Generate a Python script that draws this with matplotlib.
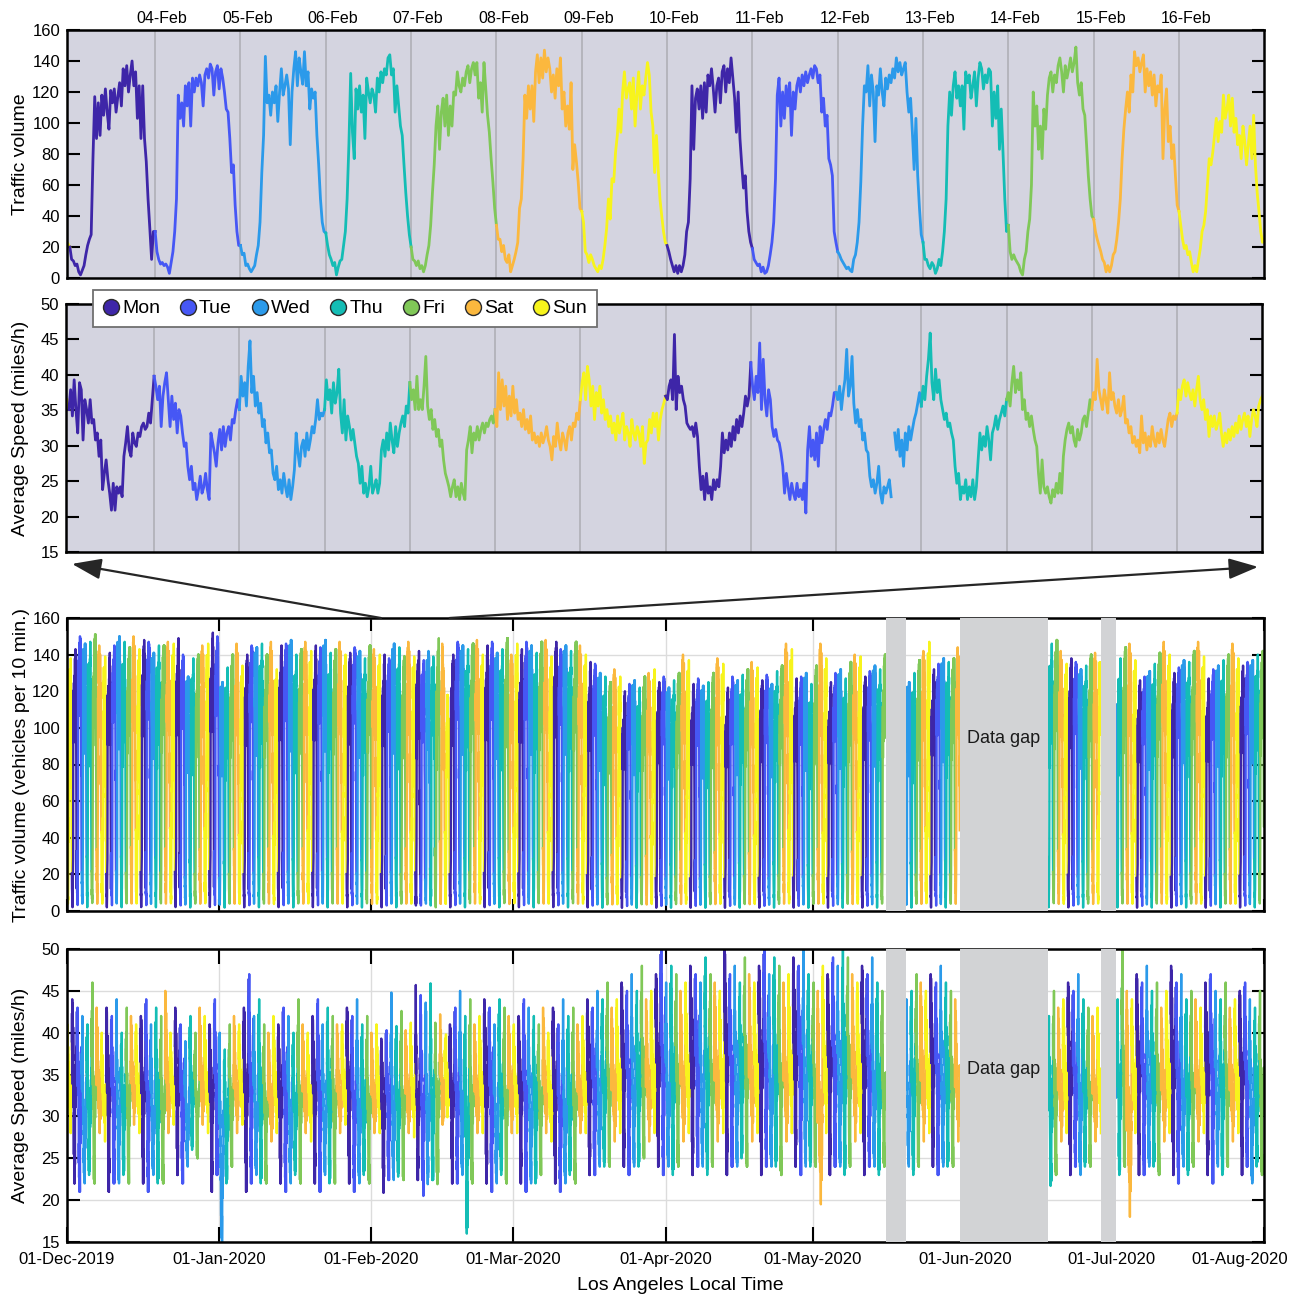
import numpy as np
import matplotlib
matplotlib.use("Agg")
import matplotlib.pyplot as plt
import matplotlib.dates as mdates
from matplotlib.patches import ConnectionPatch
from matplotlib.lines import Line2D
from matplotlib.transforms import ScaledTranslation, blended_transform_factory

plt.rcParams['font.family'] = ['Liberation Sans', 'DejaVu Sans']
plt.rcParams['font.size'] = 12

# ---------------- categories / styling data ----------------
day_names = ['Mon', 'Tue', 'Wed', 'Thu', 'Fri', 'Sat', 'Sun']
day_colors = ['#3E26A8', '#4657F5', '#2B9AEA', '#14BDB5', '#80C858', '#FBB83E', '#F7F41C']

# ---------------- zoom window: 30-min readings, 03-Feb .. 16-Feb 2020 ----------------
vol_0203 = [20,12,11,8,9,4,2,5,8,15,21,25,28,77,117,90,113,92,118,105,122,107,96,121,113,122,107,117,126,111,135,124,137,120,131,140,124,133,103,124,90,124,90,75,51,32,12,30]
vol_0204 = [30,17,12,9,10,8,9,7,3,10,17,30,51,118,103,113,98,124,111,126,98,129,120,129,124,131,126,111,131,135,129,138,135,118,133,137,122,135,129,120,109,107,90,68,73,47,30,21]
vol_0205 = [21,15,16,8,9,6,4,6,8,15,21,36,68,92,143,113,118,105,120,113,124,101,120,135,118,124,131,122,86,120,135,146,124,142,133,125,146,124,133,109,122,116,120,92,73,51,36,30]
vol_0206 = [29,21,15,12,8,10,2,7,11,12,21,30,51,86,132,94,77,122,109,124,107,118,90,129,120,113,122,118,107,129,120,133,126,135,131,142,144,131,135,107,124,111,98,92,73,55,40,28]
vol_0207 = [20,12,11,8,11,6,8,4,8,15,21,34,55,73,98,111,83,107,116,98,118,92,111,98,120,118,133,124,120,129,124,133,137,126,135,139,131,139,116,126,107,139,122,105,94,77,62,45]
vol_0208 = [34,25,25,17,21,12,10,15,4,8,12,17,23,45,51,77,118,103,124,109,124,101,133,144,126,142,129,147,133,142,135,120,131,116,135,124,142,109,120,98,111,96,126,70,86,75,62,45]
vol_0209 = [43,36,17,15,10,15,12,8,6,4,8,6,12,21,32,51,38,64,62,81,92,109,94,120,133,116,122,126,109,129,98,118,133,109,124,118,129,139,131,107,98,68,92,70,51,40,30,23]
vol_0210 = [21,17,12,8,4,8,3,8,4,8,15,30,36,64,124,83,116,122,109,124,103,126,107,131,124,135,122,107,124,129,113,133,137,120,135,126,142,129,116,94,120,90,73,58,66,43,30,23]
vol_0211 = [19,12,10,8,9,4,7,3,4,8,15,23,36,64,118,129,98,120,103,124,111,126,92,120,109,124,129,120,131,124,133,126,131,135,129,137,135,126,131,107,116,98,105,77,73,66,30,23]
vol_0212 = [17,15,12,10,8,6,7,5,4,12,15,23,36,62,98,124,120,137,111,131,120,88,124,118,135,120,111,129,122,131,126,135,129,142,133,139,131,135,139,120,107,116,94,70,103,66,45,28]
vol_0213 = [23,12,12,8,6,10,8,3,6,12,8,17,30,51,98,120,105,124,133,116,124,111,124,96,133,126,131,116,124,133,111,129,139,135,122,131,126,135,133,98,120,103,124,83,109,81,51,30]
vol_0214 = [34,17,12,15,12,10,8,4,2,12,17,30,38,60,120,98,111,83,98,77,109,96,118,129,133,120,131,126,137,142,133,120,137,129,135,142,133,139,149,126,118,126,109,105,86,66,51,40]
vol_0215 = [38,30,25,21,17,12,10,4,8,4,8,15,17,25,36,51,77,96,109,120,107,131,120,146,137,142,133,139,144,120,135,124,133,118,131,111,124,120,131,77,109,122,88,98,77,86,66,47]
vol_0216 = [43,34,25,19,21,15,17,10,4,8,4,12,19,30,34,43,60,77,73,81,92,103,88,101,94,118,103,109,118,98,116,94,103,86,92,77,98,88,73,86,98,77,105,73,55,43,30,23]
vol_before, vol_after = 22, 25      # 02-Feb 23:30 and 17-Feb 00:00

spd_0203 = [35.1,37.9,34.2,39.3,35.1,31.8,38.9,37.9,30.8,36.5,35.1,33.2,36.5,33.2,33.7,30.8,31.8,28.5,30.8,23.8,26.1,28.0,25.2,23.3,20.9,24.7,20.9,24.2,23.3,24.2,22.8,28.5,30.4,32.7,29.4,28.5,31.8,30.4,29.9,31.8,31.3,32.7,33.2,32.3,32.7,34.6,33.2,36.5]
spd_0204 = [39.8,38.4,36.5,38.4,32.7,37.0,38.9,40.3,36.5,32.7,37.0,33.7,36.0,31.8,35.1,34.2,31.8,29.9,30.4,27.1,25.2,27.1,23.8,24.7,22.4,23.8,25.7,23.3,24.2,26.1,23.8,22.4,31.8,30.4,29.0,27.1,30.4,32.3,29.4,32.7,29.9,31.8,32.7,30.8,33.7,33.2,35.1,36.5]
spd_0205 = [35.1,39.8,37.0,38.9,35.6,41.2,44.8,37.5,39.8,35.6,37.5,34.6,36.0,32.7,33.7,30.4,31.8,29.0,29.4,26.1,25.2,27.1,23.8,25.2,23.3,26.1,24.2,22.8,25.2,22.4,24.2,26.6,31.8,29.0,27.1,29.9,30.8,28.5,31.8,29.4,30.8,32.7,31.8,33.7,36.5,33.7,34.6,34.2]
spd_0206 = [35.1,39.3,36.5,37.9,34.6,38.9,36.0,37.5,40.8,34.6,31.8,36.5,30.8,34.2,32.7,30.8,32.3,30.4,28.5,27.5,24.7,27.1,23.3,24.7,22.8,24.2,27.1,23.3,24.2,25.2,23.3,24.7,29.4,30.8,28.5,31.8,29.4,33.2,30.8,29.0,32.7,29.9,31.8,33.2,34.2,32.7,35.6,34.6]
spd_0207 = [38.9,36.5,37.9,35.1,39.8,35.1,36.5,35.1,38.4,42.6,35.6,33.7,35.1,32.3,33.7,31.3,32.3,29.9,30.8,28.0,26.1,25.2,24.2,22.8,24.2,25.2,22.8,24.2,22.4,24.7,23.3,22.4,29.4,30.8,32.7,29.0,31.8,30.8,32.7,30.8,32.3,33.2,31.8,33.2,32.7,33.7,34.2,33.2]
spd_0208 = [35.1,32.7,40.3,35.1,39.3,35.6,38.4,33.7,37.0,34.2,38.4,34.6,36.5,33.7,34.6,32.7,35.1,32.3,33.7,31.8,34.2,30.8,31.8,30.4,31.3,29.9,31.8,30.4,31.3,32.7,30.8,29.9,28.0,31.3,29.9,33.2,30.8,29.4,31.8,30.8,29.4,31.8,32.7,30.8,33.2,32.7,34.6,33.7]
spd_0209 = [36.5,38.9,40.3,36.5,41.2,39.3,35.6,38.4,33.7,37.5,35.6,38.4,34.6,36.5,33.7,35.1,32.7,34.2,31.8,33.2,30.8,34.2,31.8,33.2,34.6,30.8,32.7,31.8,29.9,33.7,31.8,30.8,32.7,31.8,29.9,32.7,27.5,30.4,30.8,33.7,31.8,34.6,32.7,34.6,30.8,33.7,35.1,36.0]
spd_0210 = [37.0,36.5,38.4,39.3,36.5,45.7,35.1,39.8,37.5,38.4,36.5,35.6,33.2,32.7,32.3,32.7,31.3,33.2,31.3,27.1,23.8,25.7,22.4,26.1,23.3,24.2,22.4,25.2,23.8,25.2,24.2,27.1,31.8,29.0,30.8,29.4,31.8,29.9,32.7,30.8,33.7,31.8,34.2,32.7,34.6,37.0,35.6,37.0]
spd_0211 = [41.7,38.4,36.5,39.8,37.5,44.5,35.1,42.2,36.5,34.2,37.9,36.5,32.7,31.3,32.3,30.8,30.4,29.0,27.1,23.3,26.1,24.2,22.4,24.7,23.3,22.4,24.7,22.8,23.8,22.4,24.7,20.5,29.4,32.7,28.5,30.8,28.0,31.8,27.1,32.7,30.4,32.3,33.7,32.3,34.6,34.2,35.6,37.5]
spd_0212 = [37.5,36.5,38.4,35.1,37.5,39.3,43.6,37.0,38.4,42.6,36.0,33.2,35.1,32.7,33.7,30.8,31.8,29.4,29.0,25.7,24.2,25.2,23.3,24.7,27.1,23.3,21.9,24.2,23.3,24.2,25.2,22.8,np.nan,31.8,29.4,32.3,28.5,30.8,27.1,31.8,29.4,32.7,30.8,32.3,33.7,34.6,36.0,37.5]
spd_0213 = [35.6,38.4,36.5,39.8,42.2,45.9,38.9,36.5,40.8,37.5,39.3,36.5,35.1,33.7,34.6,32.7,33.2,31.8,30.8,27.1,24.7,26.1,22.4,24.2,23.3,25.2,22.4,24.2,22.8,25.2,22.4,24.2,28.0,31.8,29.4,31.3,29.9,32.7,30.8,28.0,31.8,32.7,34.2,32.3,33.7,34.6,35.6,34.2]
spd_0214 = [36.5,37.5,35.6,38.9,41.2,37.5,39.3,37.9,40.3,35.1,36.5,33.7,34.6,32.7,34.2,32.3,30.8,29.9,26.1,23.3,28.0,24.2,23.3,24.2,22.8,21.9,23.8,22.8,24.7,23.3,26.1,23.3,28.5,30.8,32.3,33.2,31.8,32.7,30.8,29.9,32.3,30.8,31.8,33.7,34.2,32.7,34.6,36.5]
spd_0215 = [35.1,37.5,36.5,42.2,37.9,36.5,35.1,37.9,36.5,34.6,40.3,36.5,37.5,35.6,34.6,36.5,34.2,35.1,37.0,33.2,33.7,31.8,32.7,30.4,31.3,29.9,30.8,29.0,34.2,30.4,31.8,29.4,31.3,29.9,32.7,30.8,29.9,31.8,30.4,32.3,30.8,29.9,31.8,33.7,34.6,32.7,34.2,33.7]
spd_0216 = [34.6,37.9,36.5,38.4,39.3,37.0,38.9,37.5,36.5,37.9,35.6,37.9,39.8,36.5,35.1,36.5,33.7,35.1,31.3,34.2,32.7,34.2,32.3,33.2,34.6,31.8,29.9,31.8,30.4,32.3,30.8,32.7,31.3,33.2,31.8,34.2,32.3,33.7,34.6,32.7,34.2,31.3,33.7,35.1,34.2,32.7,35.6,36.5]
spd_before, spd_after = 36.5, 37.0

# ---------------- whole record: daily peaks / troughs (01-Dec-2019 .. 31-Jul-2020) ----------------
nan = np.nan
vol_max_dec = [138,143,150,146,147,151,145,139,141,145,150,147,144,150,143,148,147,141,145,145,147,146,149,140,128,138,140,145,146,152,150]
vol_max_jan = [125,133,140,146,134,140,145,144,146,140,147,132,145,146,148,140,143,147,142,145,144,148,141,143,147,140,141,144,142,138,145]
vol_max_feb = [143,140,141,139,147,143,140,147,139,141,139,137,142,149,145,118,140,147,145,143,146,148,140,145,147,141,143,149,140]
vol_max_mar = [146,143,147,145,141,147,148,139,147,143,145,142,147,145,140,136,135,130,128,125,132,128,120,124,126,122,128,130,132,125,128]
vol_max_apr = [122,126,130,140,137,124,127,123,125,130,138,135,122,128,126,129,132,136,133,126,129,124,131,134,146,143,127,128,130,124]
vol_max_may = [134,146,138,125,130,132,127,136,140,139,128,131,134,132,140,nan,nan,nan,nan,125,130,137,142,147,132,135,138,136,138,144,nan]
vol_max_jun = [nan]*17 + [146,148,142,135,138,136,132,134,140,141,142,nan,nan]
vol_max_jul = [135,138,144,146,137,126,128,131,135,141,147,140,130,133,137,136,142,147,139,127,132,134,137,140,146,138,134,136,137,140,142]

spd_max_dec = [41,44,43,42,41,46,43,40,43,42,44,40,43,42,41,42,44,41,43,42,45,40,43,41,39,42,40,43,42,41,44]
spd_max_jan = [40,38,41,42,41,43,47,42,44,41,40,42,41,43,42,40,44,41,40,42,44,41,43,42,41,41,43,42,44,41,42]
spd_max_feb = [40,41,39,40,45,43,43,42,41,46,44,43,46,42,42,40,41,43,45,42,44,41,42,44,43,41,44,43,42]
spd_max_mar = [41,42,44,43,42,41,43,40,43,41,44,42,43,41,42,44,43,45,44,46,43,44,46,45,47,45,48,44,45,47,50]
spd_max_apr = [46,48,47,45,46,48,47,46,49,47,46,45,50,47,48,46,49,47,46,48,50,47,49,48,46,47,49,48,50,47]
spd_max_may = [46,45,48,47,49,48,50,49,47,46,48,47,49,46,45,nan,nan,nan,nan,44,45,47,46,45,47,46,48,46,45,44,nan]
spd_max_jun = [nan]*17 + [42,45,43,44,46,45,47,44,43,42,43,nan,nan]
spd_max_jul = [46,44,50,45,44,47,46,48,45,46,43,45,48,46,47,44,45,44,43,46,47,45,44,46,43,44,45,46,44,43,45]

spd_min_dec = [28,22,21,22,23,22,28,27,21,22,22,23,22,29,28,22,21,23,22,22,28,29,23,22,24,26,25,29,28,21,23]
spd_min_jan = [15,22,24,28,29,21,22,23,22,22,27,28,22,21,22,23,22,28,27,22,21,23,22,22,28,29,22,21,22,23,22]
spd_min_feb = [28,28,21,22,22,22,22,28,27,22,20.5,21.5,22,22,29,29,22,22,23,16,22,28,28,22,21,22,23,22,28]
spd_min_mar = [28,22,21,22,22,23,28,27,22,21,22,23,22,28,28,23,23,24,24,24,27,28,24,23,24,24,25,27,28,24,23]
spd_min_apr = [24,23,24,27,28,23,24,24,23,24,27,28,23,24,24,25,24,27,28,23,24,24,24,23,27,28,24,23,24,24]
spd_min_may = [24,19.5,28,23,24,24,23,24,27,28,23,24,24,23,24,nan,nan,nan,nan,24,23,24,27,28,24,23,24,24,24,27,nan]
spd_min_jun = [nan]*17 + [21.7,23,27,28,23,24,23,24,24,27,28,nan,nan]
spd_min_jul = [24,23,24,18,28,23,23,24,24,23,27,28,23,22,24,23,24,27,28,23,22,24,23,24,27,28,23,24,22,24,23]

gap_starts = ['2020-05-15T22:30', '2020-05-31T00:30', '2020-06-28T18:15']
gap_ends = ['2020-05-20T00:30', '2020-06-18T00:00', '2020-07-01T19:40']

month_ticks = ['2019-12-01', '2020-01-01', '2020-02-01', '2020-03-01', '2020-04-01',
               '2020-05-01', '2020-06-01', '2020-07-01', '2020-08-01']

# ---------------- assemble series ----------------
HALF = np.timedelta64(30, 'm')
DAY = np.timedelta64(1, 'D')
zoom_start = np.datetime64('2020-02-03T00:00')
zoom_vol = [vol_0203, vol_0204, vol_0205, vol_0206, vol_0207, vol_0208, vol_0209,
            vol_0210, vol_0211, vol_0212, vol_0213, vol_0214, vol_0215, vol_0216]
zoom_spd = [spd_0203, spd_0204, spd_0205, spd_0206, spd_0207, spd_0208, spd_0209,
            spd_0210, spd_0211, spd_0212, spd_0213, spd_0214, spd_0215, spd_0216]


def weekday(t):
    d = t.astype('datetime64[D]').astype('int64')
    return int((d + 3) % 7)   # Monday = 0


full_start = np.datetime64('2019-12-01T00:00')
vmax_all = np.array(vol_max_dec + vol_max_jan + vol_max_feb + vol_max_mar + vol_max_apr +
                    vol_max_may + vol_max_jun + vol_max_jul, dtype=float)
smax_all = np.array(spd_max_dec + spd_max_jan + spd_max_feb + spd_max_mar + spd_max_apr +
                    spd_max_may + spd_max_jun + spd_max_jul, dtype=float)
smin_all = np.array(spd_min_dec + spd_min_jan + spd_min_feb + spd_min_mar + spd_min_apr +
                    spd_min_may + spd_min_jun + spd_min_jul, dtype=float)
ndays = len(vmax_all)

vol_full, spd_full = [], []
for d in range(ndays):
    t = full_start + d * DAY
    k = int((t - zoom_start) / DAY)
    wd = weekday(t)
    if 0 <= k < 14:
        vol_full.extend(zoom_vol[k]); spd_full.extend(zoom_spd[k])
        continue
    pv = np.array(zoom_vol[wd], dtype=float)       # week of 03-Feb as daily shape
    ps = np.array(zoom_spd[wd], dtype=float)
    vol_full.extend(list(pv / pv.max() * vmax_all[d]))
    span = ps.max() - ps.min()
    spd_full.extend(list(smin_all[d] + (ps - ps.min()) / span * (smax_all[d] - smin_all[d])))
vol_full.append(vol_full[-1]); spd_full.append(spd_full[-1])
vol_full = np.array(vol_full, dtype=float)
spd_full = np.array(spd_full, dtype=float)
t_full = full_start + np.arange(len(vol_full)) * HALF
for gs, ge in zip(gap_starts, gap_ends):
    m = (t_full >= np.datetime64(gs)) & (t_full < np.datetime64(ge))
    vol_full[m] = np.nan; spd_full[m] = np.nan

# ---------------- figure ----------------
fig = plt.figure(figsize=(12.9, 12.99), dpi=100)
W, H = 1290, 1299


def add_ax(l, t, r, b):
    return fig.add_axes([l / W, 1 - b / H, (r - l) / W, (b - t) / H])


ax1 = add_ax(67, 30, 1264, 278)
ax2 = add_ax(66, 304, 1262, 552)
ax3 = add_ax(67, 618, 1264, 911)
ax4 = add_ax(67, 949, 1264, 1242)

SPINE = 1.8
for ax in (ax1, ax2, ax3, ax4):
    for s in ax.spines.values():
        s.set_linewidth(SPINE)
    ax.tick_params(axis='both', direction='in', width=1.5, length=9, labelsize=12,
                   left=True, right=True, top=True, bottom=True, pad=5)
    ax.set_axisbelow(True)

# --- zoom panels ---
xl = (np.datetime64('2020-02-02T23:12'), np.datetime64('2020-02-16T23:55'))
day_ticks = [zoom_start + (i + 1) * DAY for i in range(13)]
for ax, series, before, after in ((ax1, zoom_vol, vol_before, vol_after),
                                  (ax2, zoom_spd, spd_before, spd_after)):
    ax.set_facecolor('#D4D4E0')
    ax.plot([zoom_start - HALF, zoom_start], [before, series[0][0]],
            color=day_colors[6], lw=2.0)
    for k in range(14):
        ys = list(series[k]) + [series[k + 1][0] if k < 13 else after]
        xs = zoom_start + k * DAY + np.arange(49) * HALF
        ax.plot(xs, ys, color=day_colors[k % 7], lw=2.0)
    ax.set_xlim(*xl)
    ax.set_xticks(day_ticks)
    ax.grid(axis='x', color='#B2B2BA', lw=1.3)
    ax.tick_params(axis='x', length=0, bottom=False, top=False)

ax1.set_ylim(0, 160)
ax1.set_yticks(np.arange(0, 161, 20))
ax1.xaxis.set_major_formatter(mdates.DateFormatter('%d-%b'))
ax1.tick_params(axis='x', labeltop=True, labelbottom=False, pad=3, labelsize=11.5)
for lab in ax1.get_xticklabels():
    lab.set_transform(lab.get_transform() + ScaledTranslation(0.07, 0, fig.dpi_scale_trans))
ax1.set_ylabel('Traffic volume', fontsize=14)
ax1.yaxis.set_label_coords((29 - 67) / 1197, 0.5)

ax2.set_ylim(15, 50)
ax2.set_yticks(np.arange(15, 51, 5))
ax2.tick_params(axis='x', labelbottom=False)
ax2.set_ylabel('Average Speed (miles/h)', fontsize=14)
ax2.yaxis.set_label_coords((29 - 66) / 1196, 0.5)

handles = [Line2D([], [], ls='none', marker='o', ms=11.5, mfc=c, mec='#2a2a2a', mew=1.0)
           for c in day_colors]
leg = ax2.legend(handles, day_names, ncol=7, loc='upper left',
                 bbox_to_anchor=((93 - 66) / 1196, (552 - 290) / 248), borderaxespad=0,
                 fontsize=14, handlelength=0.85, handletextpad=0.15, columnspacing=1.0,
                 borderpad=0.5, framealpha=1, fancybox=False, edgecolor='#707070')
leg.get_frame().set_linewidth(1.3)

# --- full-record panels ---
x0, x1 = np.datetime64('2019-12-01T00:00'), np.datetime64('2020-08-01T00:00')
mt = [np.datetime64(m + 'T00:00') for m in month_ticks]
for ax, series in ((ax3, vol_full), (ax4, spd_full)):
    for d in range(ndays):
        sl = slice(d * 48, d * 48 + 49)
        wd = weekday(full_start + d * DAY)
        ax.plot(t_full[sl], series[sl], color=day_colors[wd], lw=1.7)
    for gs, ge in zip(gap_starts, gap_ends):
        ax.axvspan(np.datetime64(gs), np.datetime64(ge), color='#D2D3D5', lw=0, zorder=3)
    gmid = np.datetime64(gap_starts[1]) + (np.datetime64(gap_ends[1]) - np.datetime64(gap_starts[1])) / 2
    ax.text(gmid, 0.59, 'Data gap', transform=blended_transform_factory(ax.transData, ax.transAxes),
            ha='center', va='center', fontsize=13, color='#1a1a1a', zorder=4)
    ax.set_xlim(x0, x1)
    ax.set_xticks(mt)
    ax.grid(True, color='#DCDCDC', lw=1.0)

ax3.set_ylim(0, 160)
ax3.set_yticks(np.arange(0, 161, 20))
ax3.tick_params(axis='x', labelbottom=False)
ax3.set_ylabel('Traffic volume (vehicles per 10 min.)', fontsize=14)
ax3.yaxis.set_label_coords((30 - 67) / 1197, 0.5)

ax4.set_ylim(15, 50)
ax4.set_yticks(np.arange(15, 51, 5))
ax4.xaxis.set_major_formatter(mdates.DateFormatter('%d-%b-%Y'))
ax4.tick_params(axis='x', labelsize=12, pad=7, length=11)
ax4.set_ylabel('Average Speed (miles/h)', fontsize=14)
ax4.yaxis.set_label_coords((29 - 67) / 1197, 0.5)
ax4.set_xlabel('Los Angeles Local Time', fontsize=14)
ax4.xaxis.set_label_coords((680 - 67) / 1197, -(1277 - 1242) / 293)
fig.canvas.draw()
last = ax4.get_xticklabels()[-1]
last.set_transform(last.get_transform() + ScaledTranslation(-0.24, 0, fig.dpi_scale_trans))

# --- zoom arrows ---
for tx, (bx, by) in ((zoom_start, (0.005, -0.048)), (zoom_start + 14 * DAY, (0.9967, -0.060))):
    con = ConnectionPatch(xyA=(mdates.date2num(tx), 160), coordsA=ax3.transData,
                          xyB=(bx, by), coordsB=ax2.transAxes,
                          arrowstyle='-|>,head_length=0.9,head_width=0.32', mutation_scale=20,
                          lw=1.6, color='#262626', shrinkA=0, shrinkB=0)
    fig.add_artist(con)

fig.savefig('out.png', dpi=100)
